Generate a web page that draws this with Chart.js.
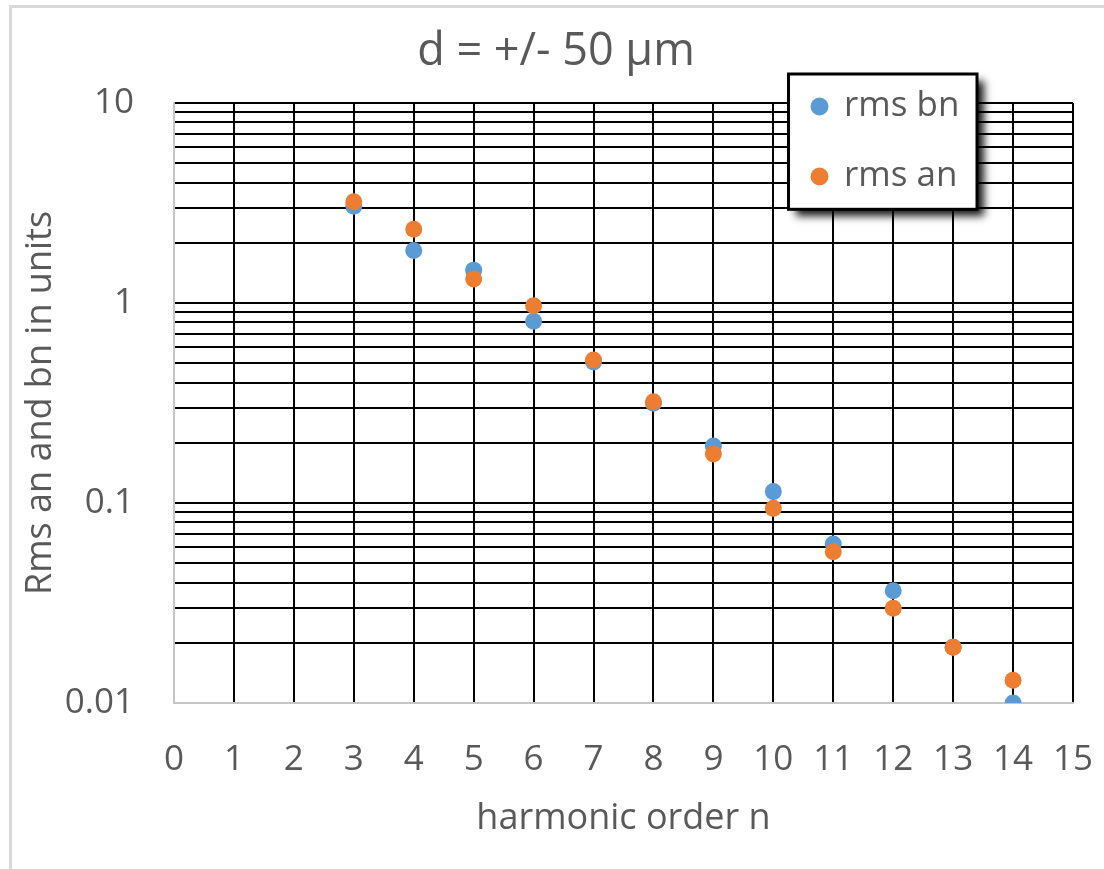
<!DOCTYPE html>
<html>
<head>
<meta charset="utf-8">
<title>d = +/- 50 µm</title>
<script src="https://cdn.jsdelivr.net/npm/chart.js@4.4.0/dist/chart.umd.min.js"></script>
<style>
  html, body { margin: 0; padding: 0; background: #fff; }
  #wrap { width: 1104px; height: 869px; }
</style>
</head>
<body>
<div id="wrap"><canvas id="harmonics" width="1104" height="869"></canvas></div>
<script>
// harmonic order n and rms values (units)
const harmonicOrder = [3, 4, 5, 6, 7, 8, 9, 10, 11, 12, 13, 14];
const rmsBn = [3.05, 1.83, 1.46, 0.81, 0.507, 0.315, 0.193, 0.114, 0.0624, 0.0364, 0.019, 0.0100];
const rmsAn = [3.21, 2.34, 1.32, 0.97, 0.519, 0.321, 0.176, 0.094, 0.0571, 0.0298, 0.019, 0.0130];

// log axis: a grid line at every 1..9 step of each decade, label only the decades
const yDecades = [0.01, 0.1, 1];
const yMinorSteps = [1, 2, 3, 4, 5, 6, 7, 8, 9];
const yTickLabels = ['0.01', '0.1', '1', '10'];
const xTickLabels = ['0', '1', '2', '3', '4', '5', '6', '7', '8', '9', '10', '11', '12', '13', '14', '15'];

const textGrey = '#595959';
const axisGrey = '#c6c6c6';
const FONT = '"Open Sans", "DejaVu Sans", sans-serif';

function toPoints(ys) {
    return harmonicOrder.map((n, i) => ({ x: n, y: ys[i] }));
}

// light frame round the whole chart
const chartFrame = {
    id: 'chartFrame',
    beforeDraw(chart) {
        const ctx = chart.ctx;
        ctx.save();
        ctx.strokeStyle = '#d9d9d9';
        ctx.lineWidth = 3;
        ctx.beginPath();
        ctx.moveTo(10.5, chart.height + 5);
        ctx.lineTo(10.5, 6.5);
        ctx.lineTo(chart.width + 5, 6.5);
        ctx.stroke();
        ctx.restore();
    }
};

// legend in a framed box with a drop shadow, sitting over the plot
const boxLegend = {
    id: 'boxLegend',
    afterDraw(chart) {
        const ctx = chart.ctx;
        const x = 788.5, y = 74, w = 188.5, h = 135.3;
        ctx.save();
        ctx.shadowColor = 'rgba(0,0,0,0.9)';
        ctx.shadowBlur = 8;
        ctx.shadowOffsetX = 7;
        ctx.shadowOffsetY = 7;
        ctx.fillStyle = '#fff';
        ctx.fillRect(x, y, w, h);
        ctx.restore();

        ctx.save();
        ctx.lineWidth = 3;
        ctx.strokeStyle = '#000';
        ctx.strokeRect(x, y, w, h);
        ctx.font = '35px ' + FONT;
        ctx.textBaseline = 'middle';
        chart.data.datasets.forEach((ds, i) => {
            const cy = 106.5 + i * 70;
            ctx.beginPath();
            ctx.arc(819.5, cy, 9, 0, Math.PI * 2);
            ctx.fillStyle = ds.backgroundColor;
            ctx.fill();
            ctx.fillStyle = textGrey;
            ctx.fillText(ds.label, 844, cy);
        });
        ctx.restore();
    }
};

const ctx = document.getElementById('harmonics').getContext('2d');

new Chart(ctx, {
    type: 'scatter',
    data: {
        datasets: [{
            label: 'rms bn',
            data: toPoints(rmsBn),
            backgroundColor: '#5b9bd5',
            borderWidth: 0,
            pointRadius: 8.5,
            order: 1
        }, {
            label: 'rms an',
            data: toPoints(rmsAn),
            backgroundColor: '#ed7d31',
            borderWidth: 0,
            pointRadius: 8.5,
            order: 0 // drawn over bn
        }]
    },
    options: {
        responsive: false,
        animation: false,
        layout: { padding: { left: 8, right: 0, top: 0, bottom: 0 } },
        plugins: {
            legend: { display: false },
            tooltip: { enabled: false },
            title: {
                display: true,
                text: 'd = +/- 50 µm',
                color: textGrey,
                font: { family: FONT, size: 45, weight: 'normal' },
                padding: { top: 25, bottom: 24 }
            }
        },
        scales: {
            x: {
                type: 'linear',
                min: 0,
                max: 15,
                afterFit(scale) {
                    scale.height = 166;
                    // keep the tick padding out of the side margins
                    scale.paddingLeft = 0;
                    scale.paddingRight = 31;
                },
                ticks: {
                    stepSize: 1,
                    autoSkip: false,
                    maxRotation: 0,
                    padding: 36,
                    color: textGrey,
                    font: { family: FONT, size: 35 },
                    callback: (v) => xTickLabels[v]
                },
                grid: {
                    drawTicks: false,
                    lineWidth: 2,
                    color: (c) => (c.tick && c.tick.value === 0 ? axisGrey : '#000')
                },
                border: { color: axisGrey, width: 2 },
                title: {
                    display: true,
                    text: 'harmonic order n',
                    color: textGrey,
                    font: { family: FONT, size: 36 },
                    padding: { top: 0, bottom: 29 }
                }
            },
            y: {
                type: 'logarithmic',
                min: 0.01,
                max: 10,
                afterFit(scale) { scale.width = 166; },
                afterBuildTicks(scale) {
                    const ticks = [];
                    yDecades.forEach(d => yMinorSteps.forEach(m => ticks.push({ value: +(d * m).toPrecision(3) })));
                    ticks.push({ value: 10 });
                    scale.ticks = ticks;
                },
                ticks: {
                    autoSkip: false,
                    padding: 40,
                    color: textGrey,
                    font: { family: FONT, size: 35 },
                    callback: (v) => {
                        const lg = Math.log10(v);
                        return Math.abs(lg - Math.round(lg)) < 1e-9 ? yTickLabels[Math.round(lg) + 2] : '';
                    }
                },
                grid: {
                    drawTicks: false,
                    lineWidth: 2,
                    color: (c) => (c.tick && c.tick.value === 0.01 ? axisGrey : '#000')
                },
                border: { color: axisGrey, width: 2 },
                title: {
                    display: true,
                    text: 'Rms an and bn in units',
                    color: textGrey,
                    font: { family: FONT, size: 36 },
                    padding: { top: 11, bottom: 0 }
                }
            }
        }
    },
    plugins: [chartFrame, boxLegend]
});
</script>
</body>
</html>
